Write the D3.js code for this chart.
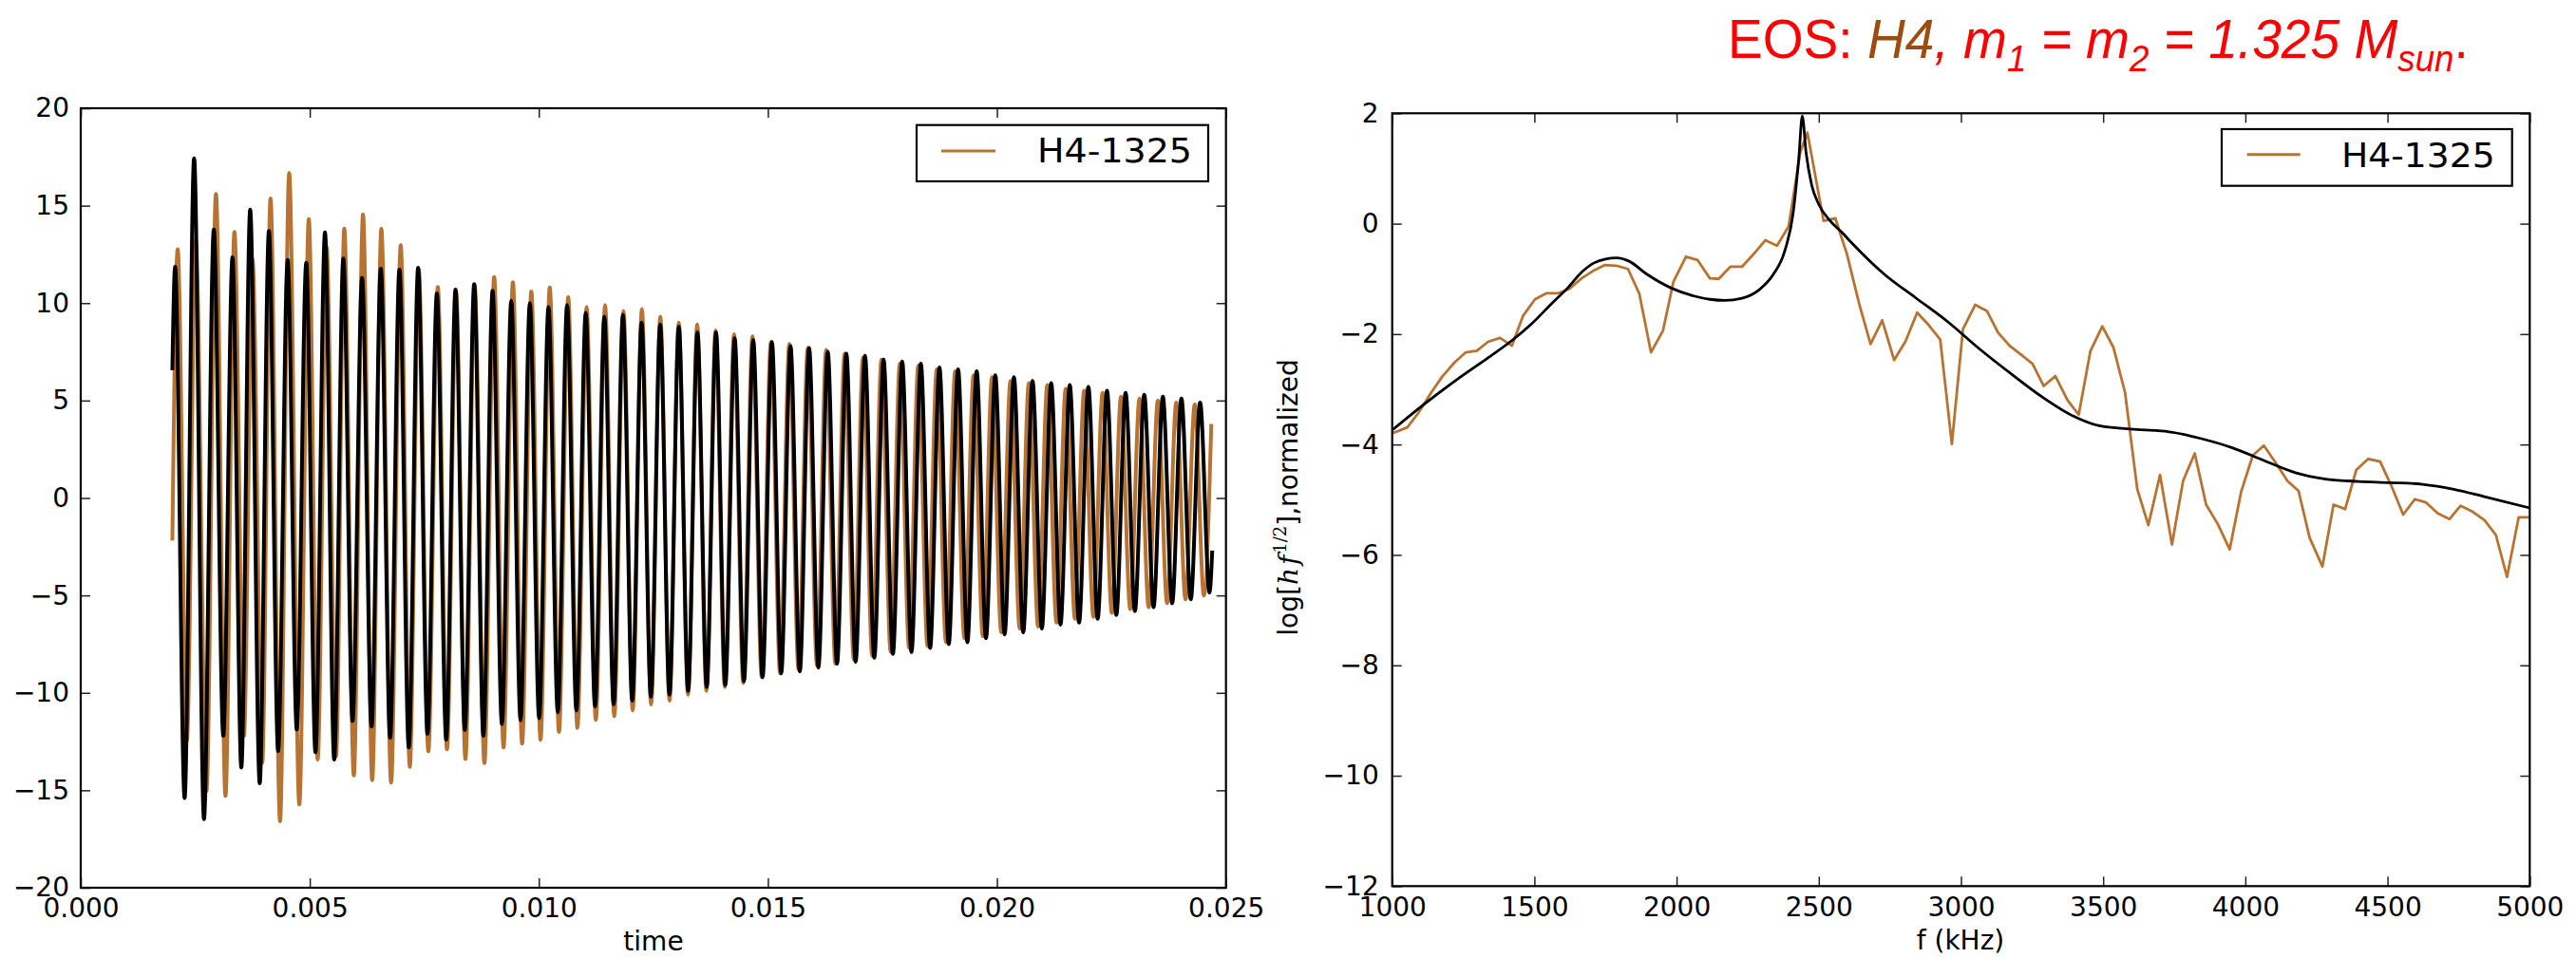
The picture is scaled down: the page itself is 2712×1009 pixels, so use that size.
<!DOCTYPE html>
<html><head><meta charset="utf-8">
<script src="https://cdn.jsdelivr.net/npm/d3@7"></script>
<style>body{margin:0;background:#fff}svg{display:block}</style>
</head><body>
<svg id="c" width="2712" height="1009"></svg>
<script>
// ---------- DATA ----------
const leftXTicks = [0, 0.005, 0.010, 0.015, 0.020, 0.025];
const leftYTicks = [-20, -15, -10, -5, 0, 5, 10, 15, 20];
const rightXTicks = [1000, 1500, 2000, 2500, 3000, 3500, 4000, 4500, 5000];
const rightYTicks = [-12, -10, -8, -6, -4, -2, 0, 2];
const legendLabel = "H4-1325";
const leftXLabel = "time";
const rightXLabel = "f (kHz)";

// time series: extrema (time, value)
const waveBlack = [
 [0.00200,6.55],[0.002060,11.86],[0.002268,-15.40],[0.002475,17.43],[0.002691,-16.48],
 [0.002905,13.78],[0.003112,-12.20],[0.003313,12.35],[0.003506,-13.83],[0.003699,14.80],
 [0.003907,-14.64],[0.004108,13.70],[0.004309,-12.98],[0.004517,12.22],[0.004716,-11.88],
 [0.004923,12.07],[0.005124,-13.05],[0.005332,13.63],[0.005533,-13.42],[0.005732,12.29],
 [0.005934,-11.44],[0.006141,11.29],[0.006349,-11.72],[0.006550,11.77],[0.006754,-12.3],
 [0.006957,11.72],[0.007161,-12.8],[0.007365,11.81],[0.007570,-12.1],[0.007774,10.50],
 [0.007978,-12.4],[0.008181,10.69],[0.008385,-11.9],[0.008589,10.97],[0.008790,-12.2],
 [0.008990,10.63],[0.009194,-11.6],[0.009398,10.12],[0.009601,-11.4],[0.009804,10.0],
 [0.010007,-11.3],[0.010211,9.8],[0.010414,-11.0],[0.010617,9.9],[0.010820,-10.9],
 [0.011024,9.5],[0.011227,-10.7],[0.011430,9.3],[0.011633,-10.6],[0.011836,9.4],
 [0.012039,-10.4],[0.012243,9.0],[0.012446,-10.2],[0.012649,8.9],[0.012852,-10.1],
 [0.013056,8.8],[0.013259,-9.9],[0.013462,8.5],[0.013665,-9.7],[0.013868,8.5],
 [0.014071,-9.6],[0.014275,8.2],[0.014478,-9.4],[0.014681,8.1],[0.014884,-9.2],
 [0.015088,8.0],[0.015291,-9.0],[0.015494,7.8],[0.015697,-8.9],[0.015900,7.7],
 [0.016103,-8.7],[0.016307,7.5],[0.016510,-8.5],[0.016713,7.4],[0.016916,-8.4],
 [0.017120,7.3],[0.017323,-8.2],[0.017526,7.1],[0.017729,-8.0],[0.017932,7.0],
 [0.018135,-7.9],[0.018339,6.9],[0.018542,-7.7],[0.018745,6.7],[0.018948,-7.5],
 [0.019152,6.6],[0.019355,-7.4],[0.019558,6.5],[0.019761,-7.2],[0.019964,6.3],
 [0.020167,-7.0],[0.020371,6.2],[0.020574,-6.9],[0.020777,6.0],[0.020980,-6.7],
 [0.021184,5.9],[0.021387,-6.5],[0.021590,5.8],[0.021793,-6.4],[0.021996,5.7],
 [0.022199,-6.2],[0.022403,5.5],[0.022606,-6.0],[0.022809,5.4],[0.023012,-5.8],
 [0.023216,5.3],[0.023419,-5.6],[0.023622,5.2],[0.023825,-5.4],[0.024028,5.1],
 [0.024231,-5.2],[0.024435,4.9],[0.024640,-4.85],[0.024700,-2.7]
];
const waveOrange = [
 [0.00200,-2.18],[0.002116,12.77],[0.002317,-12.45],[0.002510,13.21],[0.002745,-15.05],
 [0.002952,15.60],[0.003160,-15.29],[0.003355,13.65],[0.003562,-12.20],[0.003749,12.24],
 [0.003963,-13.58],[0.004143,15.37],[0.004351,-16.59],[0.004550,16.67],[0.004772,-15.73],
 [0.004979,14.31],[0.005172,-13.42],[0.005367,12.89],[0.005575,-13.26],[0.005753,13.83],
 [0.005961,-14.24],[0.006162,14.56],[0.006363,-14.48],[0.006562,13.81],[0.006775,-14.6],
 [0.006985,12.97],[0.007183,-13.8],[0.007380,11.7],[0.007588,-13.0],[0.007795,10.83],
 [0.007995,-12.9],[0.008195,10.6],[0.008398,-13.4],[0.008600,10.9],[0.008812,-13.6],
 [0.009025,11.34],[0.009230,-12.8],[0.009434,11.07],[0.009635,-12.6],[0.009836,10.6],
 [0.010037,-12.4],[0.010239,10.8],[0.010440,-12.0],[0.010641,10.3],[0.010842,-11.8],
 [0.011043,9.8],[0.011244,-11.4],[0.011446,9.9],[0.011647,-11.2],[0.011848,9.6],
 [0.012049,-10.9],[0.012250,9.7],[0.012451,-10.6],[0.012652,9.3],[0.012853,-10.4],
 [0.013055,9.0],[0.013256,-10.1],[0.013457,8.9],[0.013658,-9.9],[0.013859,8.6],
 [0.014060,-9.7],[0.014262,8.4],[0.014463,-9.5],[0.014664,8.3],[0.014865,-9.2],
 [0.015066,8.0],[0.015267,-9.0],[0.015468,7.9],[0.015669,-8.8],[0.015871,7.7],
 [0.016072,-8.6],[0.016273,7.6],[0.016474,-8.5],[0.016675,7.4],[0.016876,-8.3],
 [0.017077,7.2],[0.017278,-8.1],[0.017480,7.1],[0.017681,-7.9],[0.017882,6.9],
 [0.018083,-7.7],[0.018284,6.8],[0.018485,-7.6],[0.018687,6.6],[0.018888,-7.4],
 [0.019089,6.5],[0.019290,-7.2],[0.019491,6.3],[0.019692,-7.1],[0.019893,6.2],
 [0.020094,-6.9],[0.020296,6.0],[0.020497,-6.7],[0.020698,5.9],[0.020899,-6.6],
 [0.021100,5.8],[0.021301,-6.4],[0.021502,5.6],[0.021703,-6.2],[0.021905,5.5],
 [0.022106,-6.1],[0.022307,5.4],[0.022508,-5.9],[0.022709,5.2],[0.022910,-5.7],
 [0.023112,5.1],[0.023313,-5.6],[0.023514,5.0],[0.023715,-5.4],[0.023916,4.9],
 [0.024117,-5.2],[0.024318,4.8],[0.024519,-5.0],[0.024680,3.8]
];

// spectrum (frequency, log value)
const specOrange = [
 [1000,-3.80],[1053,-3.69],[1092,-3.43],[1137,-3.06],[1176,-2.77],[1220,-2.51],[1259,-2.33],
 [1298,-2.30],[1337,-2.14],[1379,-2.07],[1421,-2.21],[1460,-1.67],[1502,-1.37],[1543,-1.26],
 [1585,-1.26],[1623,-1.18],[1666,-0.99],[1705,-0.86],[1747,-0.75],[1788,-0.76],[1829,-0.82],
 [1869,-1.27],[1910,-2.33],[1952,-1.94],[1989,-1.05],[2033,-0.60],[2074,-0.66],[2117,-0.99],
 [2148,-1.00],[2189,-0.78],[2230,-0.78],[2271,-0.55],[2312,-0.30],[2353,-0.40],[2394,-0.05],
 [2435,1.30],[2460,1.65],[2476,1.20],[2517,0.05],[2558,0.10],[2599,-0.55],
 [2642,-1.45],[2682,-2.18],[2723,-1.75],[2765,-2.47],[2805,-2.13],[2846,-1.61],[2887,-1.84],
 [2927,-2.10],[2968,-3.99],[3007,-1.91],[3050,-1.47],[3091,-1.58],[3130,-1.97],[3171,-2.21],
 [3213,-2.38],[3252,-2.54],[3291,-2.94],[3332,-2.76],[3375,-3.20],[3414,-3.46],[3455,-2.31],
 [3497,-1.86],[3536,-2.24],[3577,-3.06],[3620,-4.81],[3659,-5.46],[3700,-4.55],[3742,-5.81],
 [3781,-4.66],[3822,-4.16],[3862,-5.09],[3903,-5.44],[3945,-5.90],[3985,-4.86],[4026,-4.20],
 [4065,-4.02],[4109,-4.35],[4148,-4.66],[4187,-4.84],[4226,-5.69],[4271,-6.21],[4310,-5.09],
 [4351,-5.17],[4390,-4.46],[4432,-4.26],[4474,-4.31],[4516,-4.78],[4555,-5.27],[4596,-4.99],
 [4635,-5.05],[4677,-5.25],[4718,-5.35],[4757,-5.11],[4800,-5.22],[4841,-5.37],[4881,-5.64],
 [4920,-6.40],[4961,-5.32],[5010,-5.32]
];
const specBlack = [
 [1000,-3.74],[1115,-3.26],[1226,-2.83],[1337,-2.43],[1415,-2.14],[1493,-1.80],[1560,-1.45],
 [1616,-1.17],[1666,-0.88],[1710,-0.71],[1750,-0.64],[1789,-0.62],[1833,-0.68],[1894,-0.91],
 [1983,-1.17],[2061,-1.31],[2117,-1.37],[2170,-1.39],[2230,-1.35],[2290,-1.20],[2340,-0.92],
 [2380,-0.50],[2410,0.20],[2430,1.20],[2442,1.95],[2455,1.30],[2475,0.70],[2500,0.35],
 [2540,0.05],[2580,-0.15],[2618,-0.36],[2729,-0.91],[2840,-1.34],[2952,-1.77],[3063,-2.26],
 [3174,-2.71],[3286,-3.14],[3397,-3.49],[3486,-3.66],[3620,-3.73],[3731,-3.77],[3842,-3.89],
 [3954,-4.06],[4065,-4.29],[4176,-4.51],[4288,-4.63],[4399,-4.67],[4510,-4.69],[4622,-4.72],
 [4733,-4.81],[4844,-4.95],[5000,-5.15]
];

// ---------- DRAW ----------
const FONT = "'DejaVu Sans', sans-serif";
const ORANGE = "#b87333";
const svg = d3.select("#c");
svg.append("rect").attr("width", 2712).attr("height", 1009).attr("fill", "#fff");
const defs = svg.append("defs");

function panel(cfg) {
  const x = d3.scaleLinear().domain(cfg.xDomain).range([cfg.left, cfg.right]);
  const y = d3.scaleLinear().domain(cfg.yDomain).range([cfg.bottom, cfg.top]);
  defs.append("clipPath").attr("id", cfg.id).append("rect")
    .attr("x", cfg.left).attr("y", cfg.top)
    .attr("width", cfg.right - cfg.left).attr("height", cfg.bottom - cfg.top);
  const g = svg.append("g");
  const plot = g.append("g").attr("clip-path", `url(#${cfg.id})`);
  cfg.series.forEach(s => {
    const line = d3.line().x(d => x(d[0])).y(d => y(d[1])).curve(s.curve);
    plot.append("path").datum(s.data).attr("d", line)
      .attr("fill", "none").attr("stroke", s.color).attr("stroke-width", s.width)
      .attr("stroke-linejoin", "round").attr("stroke-linecap", "butt");
  });
  const minus = v => v < 0 ? "\u2212" + cfg.fmt(-v) : cfg.fmt(v);
  const yminus = v => v < 0 ? "\u2212" + cfg.yfmt(-v) : cfg.yfmt(v);
  const styleAxis = (sel) => {
    sel.select(".domain").remove();
    sel.selectAll(".tick line").attr("stroke", "#222").attr("stroke-width", 1.5);
    sel.selectAll(".tick text").style("font-family", FONT).style("font-size", "28px").attr("fill", "#000");
  };
  g.append("g").attr("transform", `translate(0,${cfg.bottom})`)
    .call(d3.axisBottom(x).tickValues(cfg.xTicks).tickSize(-10).tickPadding(cfg.xPad).tickFormat(minus)).call(styleAxis);
  g.append("g").attr("transform", `translate(0,${cfg.top})`)
    .call(d3.axisTop(x).tickValues(cfg.xTicks).tickSize(-10).tickFormat("")).call(styleAxis);
  g.append("g").attr("transform", `translate(${cfg.left},0)`)
    .call(d3.axisLeft(y).tickValues(cfg.yTicks).tickSize(-10).tickPadding(cfg.yPad).tickFormat(yminus)).call(styleAxis);
  g.append("g").attr("transform", `translate(${cfg.right},0)`)
    .call(d3.axisRight(y).tickValues(cfg.yTicks).tickSize(-10).tickFormat("")).call(styleAxis);
  g.append("rect").attr("x", cfg.left).attr("y", cfg.top)
    .attr("width", cfg.right - cfg.left).attr("height", cfg.bottom - cfg.top)
    .attr("fill", "none").attr("stroke", "#000").attr("stroke-width", 2.2);
  const L = cfg.legend;
  g.append("rect").attr("x", L.x0).attr("y", L.y0).attr("width", L.x1 - L.x0).attr("height", L.y1 - L.y0)
    .attr("fill", "#fff").attr("stroke", "#000").attr("stroke-width", 2.2);
  g.append("line").attr("x1", L.lx0).attr("x2", L.lx1).attr("y1", L.ly).attr("y2", L.ly)
    .attr("stroke", ORANGE).attr("stroke-width", 3);
  g.append("text").attr("x", L.tx).attr("y", L.ty).text(legendLabel)
    .style("font-family", FONT).style("font-size", "36px")
    .attr("textLength", L.tw).attr("lengthAdjust", "spacingAndGlyphs");
  return { x, y, g };
}

panel({
  id: "clipL", left: 85, right: 1290.7, top: 114, bottom: 935,
  xDomain: [0, 0.025], yDomain: [-20, 20], xTicks: leftXTicks, yTicks: leftYTicks,
  fmt: d3.format(".3f"), yfmt: d3.format("d"), xPad: 11, yPad: 12,
  series: [
    { data: waveOrange, color: ORANGE, width: 4, curve: d3.curveMonotoneX },
    { data: waveBlack, color: "#000", width: 4, curve: d3.curveMonotoneX }
  ],
  legend: { x0: 965, x1: 1272, y0: 131.7, y1: 191, lx0: 991, lx1: 1048, ly: 159, tx: 1092, ty: 171, tw: 163 }
});
panel({
  id: "clipR", left: 1465.7, right: 2663.3, top: 119.3, bottom: 933.3,
  xDomain: [1000, 5000], yDomain: [-12, 2], xTicks: rightXTicks, yTicks: rightYTicks,
  fmt: d3.format("d"), yfmt: d3.format("d"), xPad: 12, yPad: 14,
  series: [
    { data: specOrange, color: ORANGE, width: 2.8, curve: d3.curveLinear },
    { data: specBlack, color: "#000", width: 2.8, curve: d3.curveMonotoneX }
  ],
  legend: { x0: 2339, x1: 2644.7, y0: 136, y1: 195.7, lx0: 2365.7, lx1: 2421.7, ly: 162.7, tx: 2465, ty: 176, tw: 161.7 }
});

// axis labels
svg.append("text").attr("x", 688).attr("y", 1001).attr("text-anchor", "middle")
  .style("font-family", FONT).style("font-size", "28px").text(leftXLabel);
svg.append("text").attr("x", 2064).attr("y", 1000).attr("text-anchor", "middle")
  .style("font-family", FONT).style("font-size", "28px").text(rightXLabel);

const yl = svg.append("text").attr("transform", "translate(1366,524) rotate(-90)")
  .attr("text-anchor", "middle").style("font-family", FONT).style("font-size", "28px");
yl.append("tspan").text("log[");
yl.append("tspan").style("font-family", "'DejaVu Serif', serif").style("font-style", "italic").text("h");
yl.append("tspan").style("font-family", "'DejaVu Serif', serif").style("font-style", "italic").attr("dx", 3).text("f");
yl.append("tspan").style("font-family", "'DejaVu Serif', serif").style("font-size", "18px").attr("dy", -12).attr("dx", 2).text("1/2");
yl.append("tspan").attr("dy", 12).text("],normalized");

// title
const titleParts = [
  { t: "EOS: ", c: "#ff0000", i: false },
  { t: "H4", c: "#9c4c0e", i: true },
  { t: ", m", c: "#ff0000", i: true },
  { t: "1", c: "#ff0000", i: true, sub: true },
  { t: " = m", c: "#ff0000", i: true },
  { t: "2", c: "#ff0000", i: true, sub: true },
  { t: " = 1.325 M", c: "#ff0000", i: true },
  { t: "sun", c: "#ff0000", i: true, sub: true },
  { t: ".", c: "#ff0000", i: false }
];
const title = svg.append("text").attr("x", 0).attr("y", 0)
  .style("font-family", "'Liberation Sans',sans-serif").style("font-size", "57px");
let wasSub = false;
titleParts.forEach(p => {
  const ts = title.append("tspan").attr("fill", p.c).style("font-style", p.i ? "italic" : "normal").text(p.t);
  if (p.sub) ts.style("font-size", "38px");
  if (p.sub && !wasSub) ts.attr("dy", 14);
  if (!p.sub && wasSub) ts.attr("dy", -14);
  wasSub = !!p.sub;
});
const tw = title.node().getComputedTextLength();
title.attr("transform", `translate(1819,61) scale(${780 / tw},1)`);
</script>
</body></html>
